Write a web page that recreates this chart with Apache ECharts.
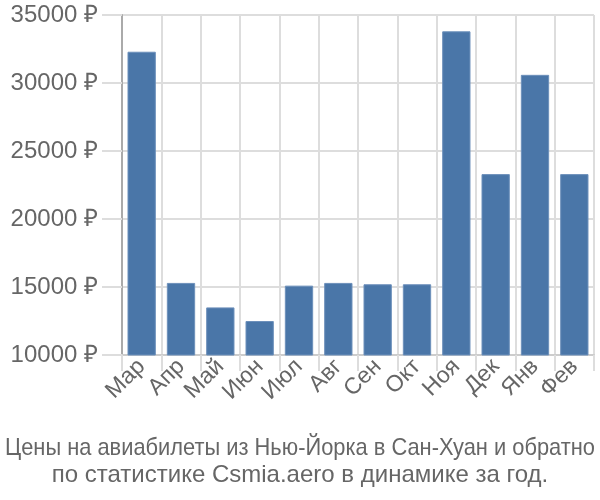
<!DOCTYPE html>
<html><head><meta charset="utf-8">
<script src="https://cdn.jsdelivr.net/npm/echarts@6/dist/echarts.min.js"></script>
<style>html,body{margin:0;padding:0;background:#fff}#c{width:600px;height:500px}</style>
</head><body><div id="c"></div>
<script>
const categories = ['Мар','Апр','Май','Июн','Июл','Авг','Сен','Окт','Ноя','Дек','Янв','Фев'];
const prices = [32300,15300,13500,12500,15100,15300,15200,15200,33800,23300,30600,23300];
const titleLines = ['Цены на авиабилеты из Нью-Йорка в Сан-Хуан и обратно','по статистике Csmia.aero в динамике за год.'];
const FONT = '"Liberation Sans", Arial, sans-serif';
const TITLE_SIZE = 24, MAX_W = 590;
const ctx = document.createElement('canvas').getContext('2d');
ctx.font = TITLE_SIZE + 'px ' + FONT;
function fitScale(t){ const w = ctx.measureText(t).width; return w > MAX_W ? MAX_W / w : 1; }
const chart = echarts.init(document.getElementById('c'));
chart.setOption({
  animation:false,
  graphic: titleLines.map(function(t, i){
    return {type:'text', x:300, y:448 + i*27, scaleX:fitScale(t),
      style:{text:t, x:0, y:0, textAlign:'center', textVerticalAlign:'middle',
        fontFamily:FONT, fontSize:TITLE_SIZE, fill:'#666'}};
  }),
  grid:{left:122,right:6,top:15,bottom:145,containLabel:false},
  xAxis:{type:'category',data:categories,
    axisLine:{show:true,lineStyle:{color:'#ccc',width:2}},
    axisTick:{show:true,length:16,lineStyle:{color:'#ddd',width:2}},
    splitLine:{show:true,lineStyle:{color:'#ddd',width:2}},
    axisLabel:{rotate:45,fontFamily:FONT,fontSize:23,color:'#666',margin:8,interval:0}},
  yAxis:{type:'value',min:10000,max:35000,interval:5000,
    axisLine:{show:true,lineStyle:{color:'#aaa',width:2}},
    axisTick:{show:true,length:20,lineStyle:{color:'#ddd',width:2}},
    splitLine:{show:true,lineStyle:{color:'#ddd',width:2}},
    axisLabel:{formatter:function(v){return v+' ₽';},fontFamily:FONT,fontSize:24,color:'#666',margin:24}},
  series:[{type:'bar',data:prices,barWidth:'72%',
    itemStyle:{color:'#4a76a8',borderColor:'#6d90bb',borderWidth:1}}]
});
</script></body></html>
